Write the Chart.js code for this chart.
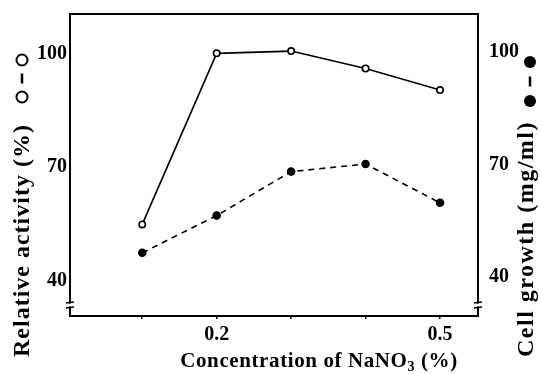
<!DOCTYPE html>
<html>
<head>
<meta charset="utf-8">
<script src="https://cdn.jsdelivr.net/npm/chart.js@4/dist/chart.umd.min.js"></script>
<style>
  html, body { margin: 0; padding: 0; background: #fff; }
  #wrap { width: 540px; height: 374px; }
</style>
</head>
<body>
<div id="wrap"><canvas id="fig"></canvas></div>
<script>
// values
const concentration = [0.1, 0.2, 0.3, 0.4, 0.5];
const relativeActivity = [54.8, 100, 100.6, 96.0, 90.3];   // open circles, left axis
const cellGrowth = [46.5, 56.4, 68.1, 70.1, 59.8];         // filled circles, right axis
const xLabelled = [0.2, 0.5];
const yTicks = [40, 70, 100];

const serif = '"Liberation Serif", "DejaVu Serif", serif';
const tickFont = { family: serif, size: 20, weight: 'bold' };

const decorations = {
    id: 'decorations',
    afterDraw(chart) {
        const c = chart.ctx;
        const a = chart.chartArea;
        c.save();
        c.strokeStyle = '#000';
        c.fillStyle = '#000';

        // top frame line
        c.lineWidth = 2;
        c.beginPath();
        c.moveTo(a.left - 1, a.top);
        c.lineTo(a.right + 1, a.top);
        c.stroke();

        // axis break marks near the bottom of both y axes
        [a.left, a.right].forEach(x => {
            const y = a.bottom - 11;
            c.fillStyle = '#fff';
            c.fillRect(x - 2, y - 1.5, 4, 3);
            c.lineWidth = 1.5;
            c.beginPath();
            c.moveTo(x - 4, y - 2); c.lineTo(x + 4, y - 3);
            c.moveTo(x - 4, y + 3); c.lineTo(x + 4, y + 2);
            c.stroke();
        });
        c.fillStyle = '#000';

        // x title with subscript
        c.letterSpacing = '0.6px';
        const big = 'bold 21px ' + serif;
        const small = 'bold 14px ' + serif;
        const p1 = 'Concentration of NaNO', p2 = '3', p3 = ' (%)';
        c.font = big; const w1 = c.measureText(p1).width, w3 = c.measureText(p3).width;
        c.font = small; const w2 = c.measureText(p2).width;
        let x = 319 - (w1 + w2 + w3) / 2;
        c.textBaseline = 'alphabetic';
        c.textAlign = 'left';
        c.font = big; c.fillText(p1, x, 367); x += w1;
        c.font = small; c.fillText(p2, x, 371); x += w2;
        c.font = big; c.fillText(p3, x, 367);

        // y titles, reading bottom to top
        const vText = (txt, cx, startY, spacing) => {
            c.save();
            c.translate(cx, startY);
            c.rotate(-Math.PI / 2);
            c.font = 'bold 24px ' + serif;
            c.letterSpacing = spacing + 'px';
            c.textAlign = 'left';
            c.textBaseline = 'middle';
            c.fillText(txt, 0, 0);
            c.restore();
        };
        vText('Relative activity (%)', 23, 357, 1);
        vText('Cell growth (mg/ml)', 527, 357, 1.5);

        // series keys next to the titles
        const key = (cx, filled, y1, y2) => {
            [y1, y2].forEach(y => {
                c.beginPath();
                c.arc(cx, y, filled ? 6 : 5.5, 0, Math.PI * 2);
                if (filled) { c.fill(); } else { c.lineWidth = 2; c.stroke(); }
            });
            c.lineWidth = 2.5;
            c.beginPath();
            c.moveTo(cx, (y1 + y2) / 2 - 5);
            c.lineTo(cx, (y1 + y2) / 2 + 5);
            c.stroke();
        };
        key(22, false, 60, 97);
        key(530, true, 62, 101);
        c.restore();
    }
};

const noPad = s => { s.paddingTop = 0; s.paddingBottom = 0; s.paddingLeft = 0; s.paddingRight = 0; };

new Chart(document.getElementById('fig'), {
    type: 'line',
    data: {
        datasets: [
            {
                label: 'Relative activity (%)',
                data: concentration.map((v, i) => ({ x: v, y: relativeActivity[i] })),
                yAxisID: 'y',
                borderColor: '#000',
                borderWidth: 1.6,
                pointRadius: 3.2,
                pointBorderWidth: 1.6,
                pointBackgroundColor: '#fff',
                pointBorderColor: '#000',
                tension: 0
            },
            {
                label: 'Cell growth (mg/ml)',
                data: concentration.map((v, i) => ({ x: v, y: cellGrowth[i] })),
                yAxisID: 'y1',
                borderColor: '#000',
                borderWidth: 1.6,
                borderDash: [6, 5],
                pointRadius: 3.5,
                pointBackgroundColor: '#000',
                pointBorderColor: '#000',
                tension: 0
            }
        ]
    },
    options: {
        responsive: true,
        maintainAspectRatio: false,
        animation: false,
        layout: { padding: { top: 14, left: 0, right: 0, bottom: 0 } },
        plugins: { legend: { display: false }, tooltip: { enabled: false } },
        scales: {
            x: {
                type: 'linear',
                min: 0.003,
                max: 0.551,
                afterBuildTicks: s => { s.ticks = concentration.map(v => ({ value: v })); },
                afterFit: s => { s.height = 58; noPad(s); },
                ticks: {
                    font: tickFont,
                    color: '#000',
                    padding: 4,
                    maxRotation: 0,
                    autoSkip: false,
                    callback: v => xLabelled.includes(Math.round(v * 10) / 10) ? String(Math.round(v * 10) / 10) : ''
                },
                grid: { drawOnChartArea: false, tickLength: 3, color: '#000', lineWidth: 1.5 },
                border: { color: '#000', width: 2 }
            },
            y: {
                position: 'left',
                min: 30.6,
                max: 110.4,
                afterBuildTicks: s => { s.ticks = yTicks.map(v => ({ value: v })); },
                afterFit: s => { s.width = 70; noPad(s); },
                ticks: { font: tickFont, color: '#000', padding: 3 },
                grid: { drawOnChartArea: false, drawTicks: false },
                border: { color: '#000', width: 2 }
            },
            y1: {
                position: 'right',
                min: 29.7,
                max: 110.0,
                afterBuildTicks: s => { s.ticks = yTicks.map(v => ({ value: v })); },
                afterFit: s => { s.width = 62; noPad(s); },
                ticks: { font: tickFont, color: '#000', padding: 11 },
                grid: { drawOnChartArea: false, drawTicks: false },
                border: { color: '#000', width: 2 }
            }
        }
    },
    plugins: [decorations]
});
</script>
</body>
</html>
